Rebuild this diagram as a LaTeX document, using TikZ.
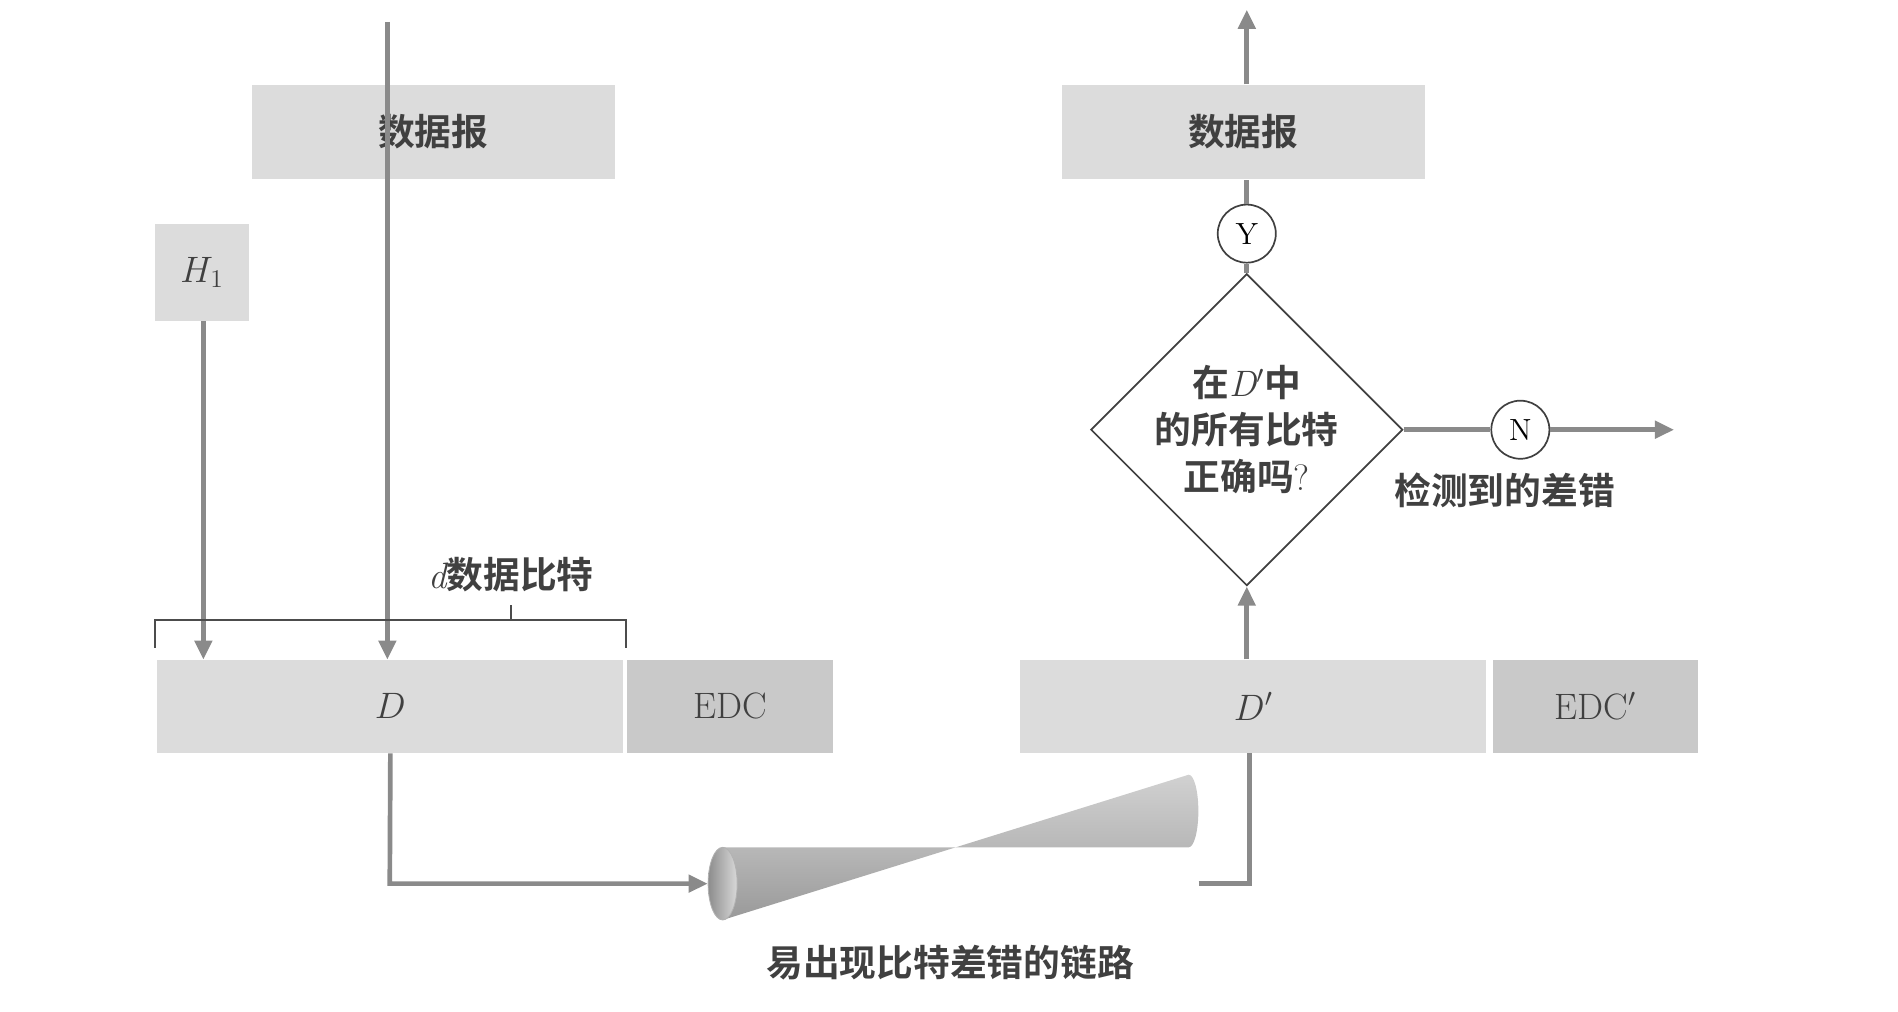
\documentclass[tikz,border=0pt]{standalone}
\usepackage{fontspec}
\newfontfamily\cjk{Noto Sans CJK SC}[BoldFont={Noto Sans CJK SC Bold}]
\usetikzlibrary{shapes.geometric,arrows.meta}
\definecolor{boxlight}{HTML}{DCDCDC}
\definecolor{boxdark}{HTML}{C9C9C9}
\definecolor{linegray}{HTML}{8A8A8A}
\tikzset{
  pkt/.style={fill=boxlight, inner sep=0pt, font=\cjk\LARGE\bfseries, text=black!75},
  edcbox/.style={fill=boxdark, inner sep=0pt, font=\LARGE, text=black!75},
  flow/.style={linegray, line width=2.2pt, -{Triangle[length=9pt,width=8pt]}},
  flowline/.style={linegray, line width=2.2pt},
  yn/.style={circle, draw=black!75, thick, fill=white, minimum size=0.96cm, inner sep=0pt, font=\Large},
  cjklabel/.style={font=\cjk\LARGE\bfseries, text=black!75}
}
\begin{document}
\begin{tikzpicture}[x=0.02cm, y=-0.02cm]
\useasboundingbox (0,0) rectangle (1568,836);

% Sender side
\node[pkt, minimum width=6cm, minimum height=1.56cm] (dgL) at (358,109) {数据报};
\node[pkt, minimum width=1.56cm, minimum height=1.6cm, font=\LARGE] (h1) at (167,225) {$H_1$};
\node[pkt, minimum width=7.7cm, minimum height=1.54cm, font=\LARGE] (dL) at (322.5,583.5) {$D$};
\node[edcbox, minimum width=3.4cm, minimum height=1.54cm] (edcL) at (603,583.5) {EDC};
\coordinate (topL) at (320,18);
\coordinate (dInL) at (320,545);
\coordinate (hIn) at (168,545);
\draw[flow] (topL) -- (dInL);
\draw[flow] (h1.south -| hIn) -- (hIn);

% Bracket over the data bits
\draw[black!70, thick] (128,535) -- (128,512) -- (517,512) -- (517,535)
  (422,512) -- (422,500);
\node[cjklabel] (dbits) at (422,475) {\rmfamily\mdseries\itshape d\cjk\bfseries\upshape 数据比特};

% Link (tube with open left end)
\node[minimum width=8.1cm, minimum height=1.2cm, inner sep=0pt] (link) at (787.5,730) {};
\shade[top color=black!18, bottom color=black!40, middle color=black!28]
  (597,700) -- (982,700) arc[start angle=90, end angle=-90, x radius=8, y radius=30] -- (597,760) -- cycle;
\shade[left color=black!45, right color=black!15, draw=black!30]
  (597,730) ellipse[x radius=12, y radius=30];
\node[cjklabel] (linklabel) at (785,795) {易出现比特差错的链路};
\coordinate (turnL) at (322,730);
\draw[flow] (dL.south) -- (turnL) -- (link.west);

% Receiver side
\node[pkt, minimum width=7.7cm, minimum height=1.54cm, font=\LARGE] (dR) at (1035.5,583.5) {$D'$};
\node[edcbox, minimum width=3.4cm, minimum height=1.54cm] (edcR) at (1318,583.5) {EDC$'$};
\coordinate (turnR) at (1032,730);
\draw[flowline] (link.east) -- (turnR) -- (turnR |- dR.south);

\node[diamond, draw=black!75, thick, fill=white, minimum width=4.6cm, minimum height=4.6cm, inner sep=0pt,
  align=center, cjklabel] (check) at (1030,355)
  {在{\rmfamily\mdseries\itshape D$'$}中\\的所有比特\\正确吗{\rmfamily\mdseries ?}};
\draw[flow] (dR.north -| check) -- (check.south);

\node[yn] (yes) at (1030,193) {Y};
\node[pkt, minimum width=6cm, minimum height=1.56cm] (dgR) at (1027,109) {数据报};
\coordinate (topR) at (1030,8);
\draw[flowline] (check.north) -- (yes);
\draw[flowline] (yes) -- (yes |- dgR.south);
\draw[flow] (yes |- dgR.north) -- (topR);

\node[yn] (no) at (1256,355) {N};
\coordinate (errOut) at (1383,355);
\draw[flowline] (check.east) -- (no);
\draw[flow] (no) -- (errOut);
\node[cjklabel] (errlabel) at (1243,405) {检测到的差错};
\end{tikzpicture}
\end{document}
